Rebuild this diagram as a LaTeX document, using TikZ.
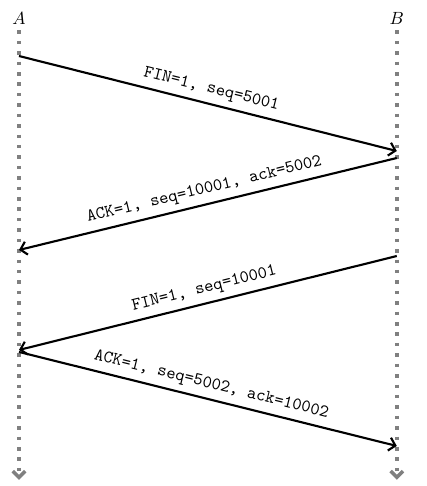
\documentclass[tikz,border=0pt]{standalone}
\usetikzlibrary{positioning,arrows.meta}
\begin{document}
\begin{tikzpicture}[
lifeline/.style={-{Straight Barb[length=3.5pt,width=7pt]},draw=gray,line width=2pt,dash pattern=on 2pt off 3.9pt},
msg/.style={-{Straight Barb[length=3.5pt,width=7.5pt]},very thick},
msglabel/.style={midway,sloped,above,font=\ttfamily}]
\useasboundingbox (-0.378,-9.674) rectangle (8.12,0);
\node (A) at (0,-0.36) {$A$};
\node (B) at (7.52,-0.36) {$B$};
\coordinate (Aend) at (0,-9.55);
\coordinate (Bend) at (7.52,-9.55);
\draw[lifeline] (A) -- (Aend);
\draw[lifeline] (B) -- (Bend);
% segments
\coordinate (a1) at (0,-1.115);
\coordinate (b1) at (7.52,-3.006);
\coordinate (b2) at (7.52,-3.145);
\coordinate (a2) at (0,-4.976);
\coordinate (b3) at (7.52,-5.096);
\coordinate (a3) at (0,-6.966);
\coordinate (a4) at (0,-7.006);
\coordinate (b4) at (7.52,-8.877);
\draw[msg] (a1) -- (b1) node[msglabel] {FIN=1, seq=5001};
\draw[msg] (b2) -- (a2) node[msglabel] {ACK=1, seq=10001, ack=5002};
\draw[msg] (b3) -- (a3) node[msglabel] {FIN=1, seq=10001};
\draw[msg] (a4) -- (b4) node[msglabel] {ACK=1, seq=5002, ack=10002};
\end{tikzpicture}
\end{document}
